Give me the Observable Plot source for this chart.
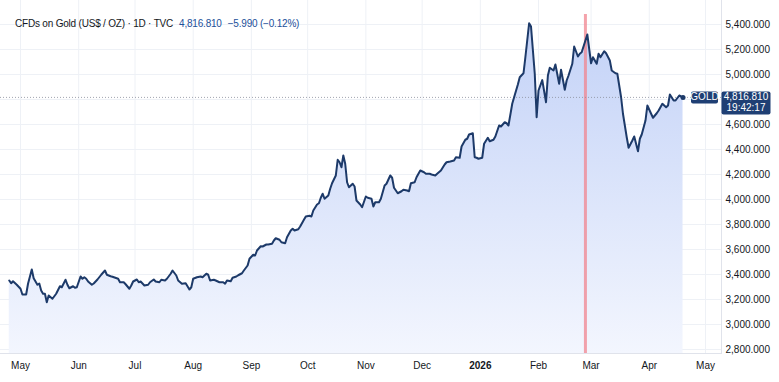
<!DOCTYPE html>
<html><head><meta charset="utf-8">
<script src="https://cdn.jsdelivr.net/npm/d3@7"></script>
<script src="https://cdn.jsdelivr.net/npm/@observablehq/plot@0.6"></script>
<style>
body{margin:0;background:#fff;}
#wrap{position:relative;width:779px;height:382px;font-family:"Liberation Sans",Arial,sans-serif;}
#hdr{position:absolute;left:15px;top:18px;font-size:10px;letter-spacing:-0.2px;color:#131722;white-space:nowrap;}
#hdr .v{color:#22509a;margin-left:6px;}
#wrap svg{display:block;}
</style></head><body>
<div id="wrap">
<div id="hdr">CFDs on Gold (US$ / OZ) · 1D · TVC<span class="v">4,816.810</span><span class="v">−5.990 (−0.12%)</span></div>
</div>
<script>
const dates = [
 "2025-04-25","2025-04-26","2025-04-27","2025-04-29",
 "2025-05-01","2025-05-02","2025-05-04","2025-05-05","2025-05-07","2025-05-08","2025-05-10","2025-05-11","2025-05-12","2025-05-13","2025-05-14","2025-05-15","2025-05-16","2025-05-18","2025-05-20","2025-05-22","2025-05-23","2025-05-25","2025-05-26","2025-05-27","2025-05-29","2025-05-30","2025-05-31",
 "2025-06-02","2025-06-03","2025-06-04","2025-06-05","2025-06-06","2025-06-08","2025-06-09","2025-06-11","2025-06-13","2025-06-15","2025-06-16","2025-06-18","2025-06-19","2025-06-22","2025-06-23","2025-06-25","2025-06-26","2025-06-28","2025-06-29","2025-06-30",
 "2025-07-02","2025-07-03","2025-07-04","2025-07-06","2025-07-08","2025-07-09","2025-07-11","2025-07-12","2025-07-14","2025-07-15","2025-07-17","2025-07-18","2025-07-20","2025-07-21","2025-07-23","2025-07-24","2025-07-26","2025-07-28","2025-07-30","2025-07-31",
 "2025-08-01","2025-08-03","2025-08-05","2025-08-06","2025-08-08","2025-08-09","2025-08-10","2025-08-12","2025-08-13","2025-08-15","2025-08-17","2025-08-18","2025-08-19","2025-08-21","2025-08-22","2025-08-24","2025-08-25","2025-08-27","2025-08-28","2025-08-30","2025-08-31",
 "2025-09-02","2025-09-03","2025-09-04","2025-09-06","2025-09-07","2025-09-09","2025-09-10","2025-09-12","2025-09-13","2025-09-14","2025-09-16","2025-09-17","2025-09-19","2025-09-20","2025-09-22","2025-09-23","2025-09-24","2025-09-26","2025-09-27","2025-09-29","2025-09-30",
 "2025-10-02","2025-10-03","2025-10-04","2025-10-06","2025-10-07","2025-10-08","2025-10-09","2025-10-10","2025-10-12","2025-10-13","2025-10-14","2025-10-16","2025-10-17","2025-10-18","2025-10-19","2025-10-20","2025-10-21","2025-10-22","2025-10-23","2025-10-25","2025-10-26","2025-10-27","2025-10-29","2025-10-30",
 "2025-11-01","2025-11-02","2025-11-04","2025-11-05","2025-11-06","2025-11-08","2025-11-09","2025-11-11","2025-11-12","2025-11-14","2025-11-15","2025-11-16","2025-11-18","2025-11-20","2025-11-21","2025-11-23","2025-11-24","2025-11-25","2025-11-27","2025-11-28","2025-11-30",
 "2025-12-02","2025-12-03","2025-12-05","2025-12-06","2025-12-08","2025-12-09","2025-12-11","2025-12-13","2025-12-14","2025-12-16","2025-12-18","2025-12-19","2025-12-21","2025-12-22","2025-12-24","2025-12-25","2025-12-26","2025-12-28","2025-12-29","2025-12-30","2025-12-31",
 "2026-01-02","2026-01-03","2026-01-05","2026-01-06","2026-01-08","2026-01-09","2026-01-11","2026-01-12","2026-01-14","2026-01-15","2026-01-16","2026-01-18","2026-01-19","2026-01-21","2026-01-22","2026-01-24","2026-01-25","2026-01-27","2026-01-28","2026-01-30","2026-01-31",
 "2026-02-01","2026-02-03","2026-02-05","2026-02-06","2026-02-07","2026-02-09","2026-02-10","2026-02-12","2026-02-13","2026-02-15","2026-02-16","2026-02-17","2026-02-19","2026-02-20","2026-02-22","2026-02-23","2026-02-24","2026-02-26","2026-02-27",
 "2026-03-01","2026-03-02","2026-03-03","2026-03-04","2026-03-05","2026-03-06","2026-03-08","2026-03-09","2026-03-11","2026-03-12","2026-03-14","2026-03-15","2026-03-17","2026-03-18","2026-03-20","2026-03-21","2026-03-23","2026-03-24","2026-03-26","2026-03-27","2026-03-28","2026-03-30","2026-03-31",
 "2026-04-02","2026-04-03","2026-04-05","2026-04-06","2026-04-08","2026-04-10","2026-04-11","2026-04-12","2026-04-14","2026-04-15","2026-04-17","2026-04-18","2026-04-19"
];
const prices = [
 3352,3330,3346,3318,
 3286,3240,3240,3326,3440,3370,3318,3328,3272,3246,3246,3178,3232,3206,3246,3306,3298,3358,3318,3290,3306,3294,3298,
 3384,3366,3378,3366,3344,3318,3328,3360,3398,3432,3398,3386,3382,3366,3338,3338,3322,3286,3312,3344,
 3360,3338,3344,3312,3318,3338,3360,3344,3338,3358,3352,3366,3406,3432,3392,3352,3326,3330,3280,3298,
 3366,3378,3384,3378,3406,3398,3352,3358,3352,3338,3338,3326,3352,3346,3374,3384,3394,3410,3432,3472,3526,
 3558,3552,3592,3626,3624,3640,3640,3646,3672,3690,3678,3658,3650,3698,3752,3766,3752,3762,3784,3838,3864,
 3870,3864,3912,3960,3970,4014,4046,4006,4032,4086,4130,4192,4318,4298,4258,4352,4286,4138,4098,4126,4104,3992,3960,3938,
 4024,4014,4006,3944,3978,3978,4006,4112,4126,4192,4174,4094,4050,4066,4078,4072,4066,4130,4138,4178,4232,
 4218,4206,4206,4200,4192,4206,4232,4280,4298,4304,4312,4338,4334,4424,4478,4486,4520,4530,4338,4334,4326,
 4334,4446,4494,4466,4478,4504,4592,4584,4618,4610,4592,4766,4818,4920,4978,5010,5138,5410,5384,5006,4658,
 4872,4955,4778,4992,5054,5032,5080,4926,5038,4878,4952,4992,5086,5224,5144,5166,5178,5272,5320,
 5090,5138,5112,5086,5166,5138,5186,5170,5112,5032,5010,5006,4818,4686,4498,4414,4472,4504,4386,4486,4520,4632,4752,
 4686,4654,4690,4712,4766,4738,4752,4840,4792,4792,4832,4824,4816.81
];
const monthTicks = ["2025-05-01","2025-06-01","2025-07-01","2025-08-01","2025-09-01","2025-10-01","2025-11-01","2025-12-01","2026-01-01","2026-02-01","2026-03-01","2026-04-01","2026-05-01"];
const priceTicks = [2800,3000,3200,3400,3600,3800,4000,4200,4400,4600,4800,5000,5200,5400];
const symbolName = "GOLD";
const lastTime = "19:42:17";
const markerDate = "2026-02-26";
const xDomain = ["2025-04-20T08:00Z","2026-05-09T12:00Z"];
const yDomain = [2768, 5592];

if (dates.length !== prices.length) throw new Error("length mismatch " + dates.length + " " + prices.length);
const data = dates.map((d, i) => ({date: new Date(d), value: prices[i]}));
const last = data[data.length - 1];
const navy = "#1d3a69";
const gridColor = "#eef1f6";
const fmtX = d => d.getUTCMonth() === 0 ? String(d.getUTCFullYear()) : d3.utcFormat("%b")(d);
// the price label box covers the tick label nearest the last price
const axisTicks = priceTicks.filter(t => Math.abs(t - last.value) > 60);

const chart = Plot.plot({
  width: 779, height: 382,
  marginLeft: 0, marginRight: 58, marginTop: 0, marginBottom: 29,
  style: {fontFamily: "'Liberation Sans', Arial, sans-serif", fontSize: "10px", color: "#131722", background: "white", overflow: "visible"},
  x: {type: "utc", domain: xDomain.map(d => new Date(d)), label: null},
  y: {domain: yDomain, label: null},
  marks: [
    Plot.gridX(monthTicks.map(d => new Date(d)), {stroke: gridColor, strokeOpacity: 1}),
    Plot.gridY(priceTicks, {stroke: gridColor, strokeOpacity: 1}),
    Plot.areaY(data, {x: "date", y1: yDomain[0], y2: "value", fill: "url(#gold-grad)"}),
    Plot.ruleX([new Date(markerDate)], {stroke: "#f0848f", strokeWidth: 3, strokeOpacity: 0.75, insetTop: 14}),
    Plot.ruleY([last.value], {stroke: "#8a8f9c", strokeOpacity: 0.8, strokeDasharray: "1,2"}),
    Plot.line(data, {x: "date", y: "value", stroke: navy, strokeWidth: 2}),
    Plot.dot([last], {x: "date", y: "value", r: 2.5, fill: navy}),
    Plot.frame({anchor: "right", stroke: "#e0e3eb"}),
    Plot.frame({anchor: "bottom", stroke: "#e0e3eb"}),
    Plot.axisX(monthTicks.map(d => new Date(d)), {tickSize: 0, tickPadding: 8, tickFormat: fmtX, fill: "#131722", label: null}),
    Plot.axisY(axisTicks, {anchor: "right", tickSize: 0, tickPadding: 4, tickFormat: d3.format(",.3f"), fill: "#131722", label: null})
  ]
});

const svg = d3.select(chart);
const defs = svg.insert("defs", ":first-child");
const grad = defs.append("linearGradient").attr("id", "gold-grad").attr("x1", 0).attr("y1", 0).attr("x2", 0).attr("y2", 1);
grad.append("stop").attr("offset", 0).attr("stop-color", "#c3d2f7");
grad.append("stop").attr("offset", 1).attr("stop-color", "#f3f6fe");

svg.selectAll("text").filter(function() { return /^\d{4}$/.test(this.textContent); }).attr("font-weight", "bold");

const yPx = chart.scale("y").apply(last.value);
const xRight = 779 - 58;
const lab = svg.append("g").attr("font-family", "'Liberation Sans', Arial, sans-serif").attr("font-size", 10);
lab.append("rect").attr("x", xRight - 30).attr("y", yPx - 5.5).attr("width", 27).attr("height", 12).attr("rx", 2).attr("fill", "#1f3f74");
lab.append("text").attr("x", xRight - 16.5).attr("y", yPx + 0.5).attr("text-anchor", "middle").attr("dominant-baseline", "middle").attr("fill", "white").text(symbolName);
lab.append("rect").attr("x", xRight + 0.5).attr("y", yPx - 5.5).attr("width", 49).attr("height", 23).attr("rx", 2).attr("fill", "#1f3f74");
lab.append("text").attr("x", xRight + 25).attr("y", yPx + 0.5).attr("text-anchor", "middle").attr("dominant-baseline", "middle").attr("fill", "white").text(d3.format(",.3f")(last.value));
lab.append("text").attr("x", xRight + 25).attr("y", yPx + 11.5).attr("text-anchor", "middle").attr("dominant-baseline", "middle").attr("fill", "white").text(lastTime);

document.getElementById("wrap").appendChild(chart);
</script>
</body></html>
